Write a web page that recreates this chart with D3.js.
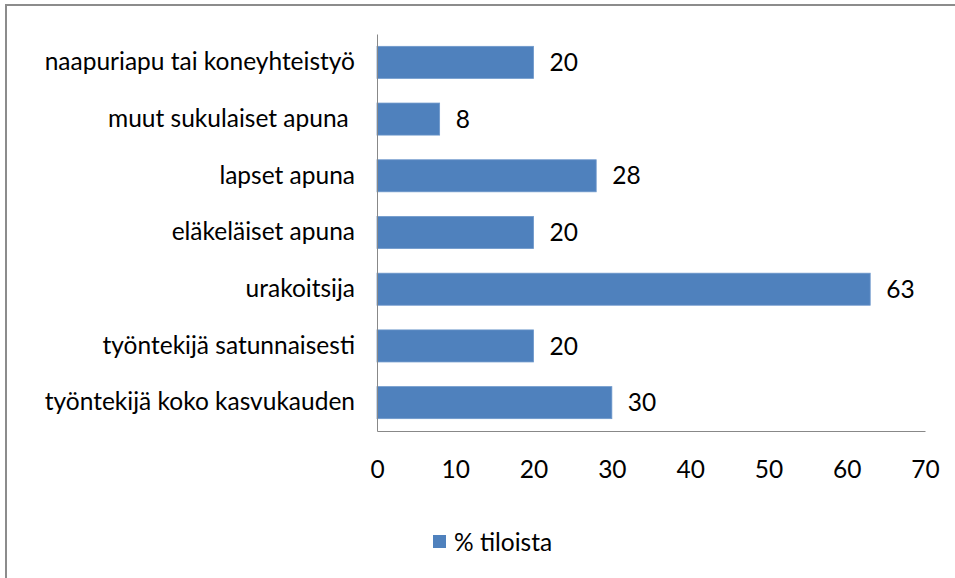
<!DOCTYPE html>
<html><head><meta charset="utf-8">
<script src="https://cdn.jsdelivr.net/npm/d3@7"></script>
<style>body{margin:0;background:#fff}svg text{font-family:Lato,"Open Sans",sans-serif;fill:#000}</style>
</head><body>
<svg id="c" width="955" height="578"></svg>
<script>
const categories = ["naapuriapu tai koneyhteistyö","muut sukulaiset apuna ","lapset apuna","eläkeläiset apuna","urakoitsija","työntekijä satunnaisesti","työntekijä koko kasvukauden"];
const values = [20, 8, 28, 20, 63, 20, 30];
const xTicks = [0,10,20,30,40,50,60,70];
const seriesName = "% tiloista";

const svg = d3.select("#c");
const fs = 24.5;
const ff = "Lato,'Open Sans',sans-serif";
// frame (top and left edges visible)
svg.append("line").attr("x1",5).attr("x2",955).attr("y1",5).attr("y2",5).attr("stroke","#8c8c8c").attr("stroke-width",2);
svg.append("line").attr("x1",6).attr("x2",6).attr("y1",4).attr("y2",578).attr("stroke","#8c8c8c").attr("stroke-width",2);

const x = d3.scaleLinear().domain([0,70]).range([377,925]);
const y = d3.scaleBand().domain(categories).range([34,431]).paddingInner(0.435).paddingOuter(0.2175);

svg.selectAll("rect.bar").data(values).join("rect").attr("class","bar")
  .attr("x",x(0)).attr("y",(d,i)=>y(categories[i]))
  .attr("width",d=>x(d)-x(0)).attr("height",y.bandwidth())
  .attr("fill","#4f81bd").attr("stroke","#6e98cb").attr("stroke-width",0.8);

svg.selectAll("text.val").data(values).join("text").attr("class","val")
  .attr("x",d=>x(d)+16).attr("y",(d,i)=>y(categories[i])+y.bandwidth()/2)
  .attr("dy","0.35em").attr("font-size",fs).text(d=>d);

const xa = svg.append("g").attr("transform","translate(0,431)")
  .call(d3.axisBottom(x).tickValues(xTicks).tickSize(0).tickPadding(30).tickFormat(d3.format("d")));
xa.select(".domain").attr("stroke","#888");
xa.selectAll("text").attr("font-size",fs).style("font-family",ff);

const ya = svg.append("g").attr("transform","translate(377,0)")
  .call(d3.axisLeft(y).tickSize(0).tickPadding(22));
ya.select(".domain").attr("stroke","#888");
ya.selectAll("text").attr("font-size",fs).style("font-family",ff).style("white-space","pre");

// legend
const lg = svg.append("g");
lg.append("rect").attr("x",433).attr("y",535).attr("width",13).attr("height",13).attr("fill","#4f81bd");
lg.append("text").attr("x",454).attr("y",542).attr("dy","0.35em").attr("font-size",fs).text(seriesName);
</script>
</body></html>
